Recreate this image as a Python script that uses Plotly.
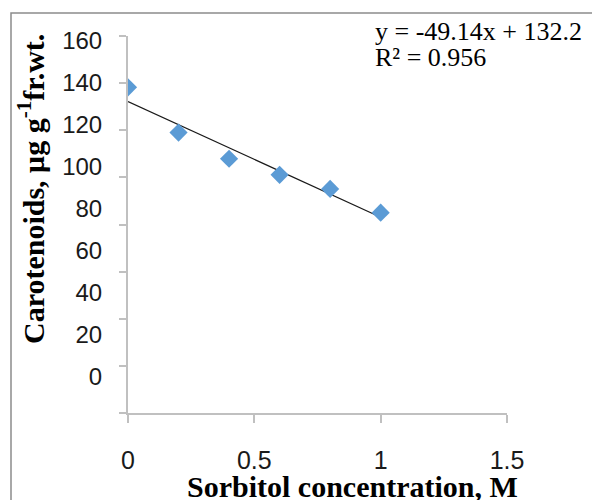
import plotly.graph_objects as go

# Data
sorbitol_M = [0.0, 0.2, 0.4, 0.6, 0.8, 1.0]
carotenoids = [138.2, 119.0, 107.9, 101.1, 95.1, 85.0]
trend_slope = -49.14
trend_intercept = 132.2
trend_x = [0.0, 1.0]
r_squared = 0.956
y_tick_values = [0, 20, 40, 60, 80, 100, 120, 140, 160]
x_tick_values = [0, 0.5, 1, 1.5]

trend_y = [trend_slope * x + trend_intercept for x in trend_x]

W, H = 592, 500
L, R, T, B = 128, 85, 36, 87
pw, ph = W - L - R, H - T - B


def px(xp):
    return (xp - L) / pw


def py(yp):
    return (H - B - yp) / ph


fig = go.Figure()
fig.add_trace(go.Scatter(x=trend_x, y=trend_y, mode="lines",
                         line=dict(color="#1a1a1a", width=1.2),
                         showlegend=False, hoverinfo="skip"))
fig.add_trace(go.Scatter(x=sorbitol_M, y=carotenoids, mode="markers",
                         marker=dict(symbol="diamond", size=14, color="#5B9BD5",
                                     line=dict(width=0)),
                         showlegend=False))
# empty trace so the label-only axis (yaxis2) gets drawn
fig.add_trace(go.Scatter(x=[], y=[], yaxis="y2", showlegend=False, hoverinfo="skip"))

axis_grey = "#c0c0c0"
fig.update_layout(
    width=W, height=H,
    margin=dict(l=L, r=R, t=T, b=B),
    paper_bgcolor="white", plot_bgcolor="white",
    xaxis=dict(range=[0, 1.5], tickvals=x_tick_values, ticktext=["0", "0.5", "1", "1.5"],
               showline=True, linecolor=axis_grey, linewidth=1.5,
               ticks="outside", ticklen=8, tickwidth=1.5, tickcolor=axis_grey,
               showgrid=False, zeroline=False,
               tickfont=dict(family="Liberation Sans", size=25, color="#1a1a1a"),
               ticklabelstandoff=16),
    yaxis=dict(range=[0, 160], tickvals=y_tick_values, showticklabels=False,
               showline=True, linecolor=axis_grey, linewidth=1.5,
               ticks="outside", ticklen=7, tickwidth=1.5, tickcolor=axis_grey,
               showgrid=False, zeroline=False),
    yaxis2=dict(range=[-17.27, 162.05], overlaying="y", anchor="x", side="left",
                tickvals=y_tick_values, ticktext=[str(v) for v in y_tick_values],
                showline=False, showgrid=False, zeroline=False,
                ticks="outside", ticklen=20, tickcolor="rgba(0,0,0,0)",
                tickfont=dict(family="Liberation Sans", size=24, color="#1a1a1a")),
    shapes=[dict(type="rect", xref="paper", yref="paper",
                 x0=px(11), x1=px(W + 20), y0=py(H + 20), y1=py(13),
                 line=dict(color="#8c8c8c", width=1.5), fillcolor="rgba(0,0,0,0)",
                 layer="below")],
    annotations=[
        dict(text=f"y = {trend_slope}x + {trend_intercept}", xref="paper", yref="paper",
             x=px(373), y=py(31), xanchor="left", yanchor="middle", showarrow=False,
             font=dict(family="Liberation Serif", size=26, color="black")),
        dict(text=f"R² = {r_squared}", xref="paper", yref="paper",
             x=px(373), y=py(57), xanchor="left", yanchor="middle", showarrow=False,
             font=dict(family="Liberation Serif", size=26, color="black")),
        dict(text="<b>Sorbitol concentration, M</b>", xref="paper", yref="paper",
             x=px(352), y=py(486), xanchor="center", yanchor="middle", showarrow=False,
             font=dict(family="Liberation Serif", size=30, color="black")),
        dict(text="<b>Carotenoids, μg g<sup>-1</sup>fr.wt.</b>", xref="paper", yref="paper",
             x=px(31), y=py(189), xanchor="center", yanchor="middle", showarrow=False,
             textangle=-90,
             font=dict(family="Liberation Serif", size=30, color="black")),
    ],
)

fig.write_html("out.html")
